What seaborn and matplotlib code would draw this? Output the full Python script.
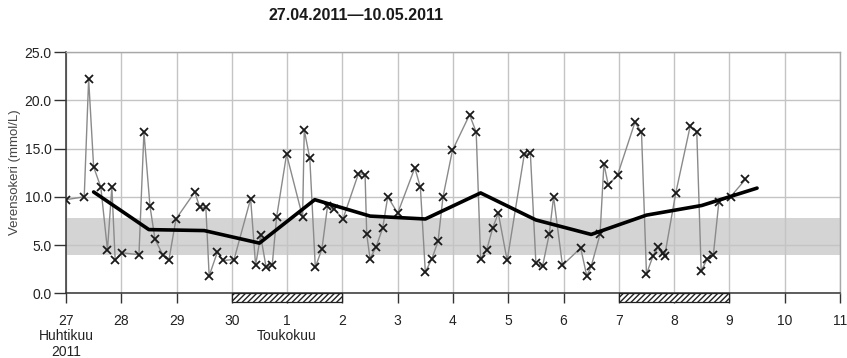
import matplotlib
matplotlib.use("Agg")
import matplotlib.pyplot as plt
from matplotlib import font_manager
import seaborn as sns
import pandas as pd

# Blood glucose readings, time in days since 27.04.2011 00:00
reading_day = [0.00, 0.33, 0.41, 0.50, 0.63, 0.75, 0.83, 0.89, 1.01, 1.32,
               1.41, 1.52, 1.61, 1.75, 1.86, 1.99, 2.33, 2.42, 2.53, 2.59,
               2.74, 2.84, 3.04, 3.34, 3.43, 3.52, 3.62, 3.73, 3.81, 3.99,
               4.28, 4.31, 4.41, 4.51, 4.63, 4.73, 4.85, 5.01, 5.29, 5.41,
               5.44, 5.50, 5.61, 5.73, 5.82, 6.00, 6.31, 6.41, 6.50, 6.62,
               6.73, 6.82, 6.99, 7.30, 7.42, 7.50, 7.61, 7.72, 7.82, 7.98,
               8.29, 8.40, 8.50, 8.62, 8.74, 8.82, 8.98, 9.31, 9.42, 9.50,
               9.66, 9.73, 9.81, 9.98, 10.29, 10.41, 10.50, 10.62, 10.71, 10.79,
               10.83, 11.03, 11.29, 11.41, 11.49, 11.60, 11.71, 11.81, 12.02, 12.29]
reading_value = [9.7, 10.0, 22.2, 13.1, 11.0, 4.5, 11.0, 3.4, 4.2, 4.0,
                 16.7, 9.0, 5.6, 4.0, 3.4, 7.7, 10.5, 8.9, 8.9, 1.8,
                 4.3, 3.4, 3.5, 9.8, 2.9, 6.0, 2.7, 2.9, 7.9, 14.4,
                 7.9, 16.9, 14.0, 2.7, 4.6, 9.0, 8.7, 7.7, 12.4, 12.3,
                 6.1, 3.6, 4.8, 6.8, 10.0, 8.3, 13.0, 11.0, 2.2, 3.6,
                 5.4, 10.0, 14.8, 18.5, 16.7, 3.6, 4.5, 6.8, 8.3, 3.4,
                 14.4, 14.5, 3.1, 2.8, 6.1, 10.0, 2.9, 4.7, 1.8, 2.8,
                 6.1, 13.4, 11.2, 12.3, 17.7, 16.7, 2.0, 3.9, 4.8, 4.2,
                 3.9, 10.4, 17.3, 16.7, 2.3, 3.6, 4.0, 9.5, 10.0, 11.8]

# Daily means, plotted at midday
mean_day = [0.5, 1.5, 2.5, 3.5, 4.5, 5.5, 6.5, 7.5, 8.5, 9.5, 10.5, 11.5, 12.5]
mean_value = [10.5, 6.6, 6.5, 5.2, 9.7, 8.0, 7.7, 10.4, 7.6, 6.1, 8.1, 9.1, 10.9]

# Target range (mmol/L)
target_low, target_high = 4.0, 7.8

# Weekends (Sat–Sun), start day offset
weekend_start = [3, 10]
weekend_length = [2, 2]

tick_days = list(range(15))
tick_labels = ["27\nHuhtikuu\n2011", "28", "29", "30", "1\nToukokuu", "2", "3",
               "4", "5", "6", "7", "8", "9", "10", "11"]
y_ticks = [0, 5, 10, 15, 20, 25]

title = "27.04.2011\u201410.05.2011"
y_label = "Verensokeri (mmol/L)"

sns.set_theme(style="white")
installed = {f.name for f in font_manager.fontManager.ttflist}
narrow = "Liberation Sans Narrow" if "Liberation Sans Narrow" in installed else "Liberation Sans"
plt.rcParams["font.family"] = ["Liberation Sans", "DejaVu Sans"]

readings = pd.DataFrame({"day": reading_day, "value": reading_value})
means = pd.DataFrame({"day": mean_day, "value": mean_value})

fig = plt.figure(figsize=(8.47, 3.58), dpi=100)
ax = fig.add_axes([0.0779, 0.1807, 0.9138, 0.674])

ax.axhspan(target_low, target_high, color="#d4d4d4", lw=0, zorder=0.2)

sns.lineplot(data=readings, x="day", y="value", ax=ax, color="#8a8a8a", lw=1.0,
             marker="x", markersize=5.5, markeredgecolor="#1a1a1a",
             markeredgewidth=1.3, zorder=3)
sns.lineplot(data=means, x="day", y="value", ax=ax, color="black", lw=2.6, zorder=4)

# Weekend markers below the axis
wk = pd.DataFrame({"start": weekend_start, "len": weekend_length})
ax.bar(wk["start"], [0.9] * len(wk), width=wk["len"], bottom=-0.9, align="edge",
       color="white", edgecolor="#222222", hatch="//////", lw=0.9,
       clip_on=False, zorder=5)

ax.set_xlim(0, 14)
ax.set_ylim(0, 25)
ax.set_xticks(tick_days)
ax.set_xticklabels(tick_labels, fontsize=10, family=[narrow, "DejaVu Sans"],
                   linespacing=1.12)
ax.set_yticks(y_ticks)
ax.set_yticklabels([f"{v:.1f}" for v in y_ticks], fontsize=10, color="#222222")
ax.tick_params(axis="x", direction="out", length=7, width=1, color="#333333",
               bottom=True, pad=8, labelcolor="#222222")
ax.tick_params(axis="y", direction="out", length=8.5, width=1, color="#333333",
               left=True, pad=2)

ax.set_axisbelow(True)
ax.grid(True, color="#c4c4c4", lw=1.0)
for side in ("top", "right"):
    ax.spines[side].set_color("#a8a8a8")
    ax.spines[side].set_linewidth(1.0)
for side in ("left", "bottom"):
    ax.spines[side].set_color("#333333")
    ax.spines[side].set_linewidth(1.1)

ax.set_xlabel("")
ax.set_ylabel(y_label, fontsize=9.5, color="#444444", labelpad=2)
fig.text(0.42, 1 - 16 / 358, title, ha="center", va="center",
         fontsize=11.5, fontweight="bold", color="#1a1a1a")

fig.savefig("out.png", dpi=100)
